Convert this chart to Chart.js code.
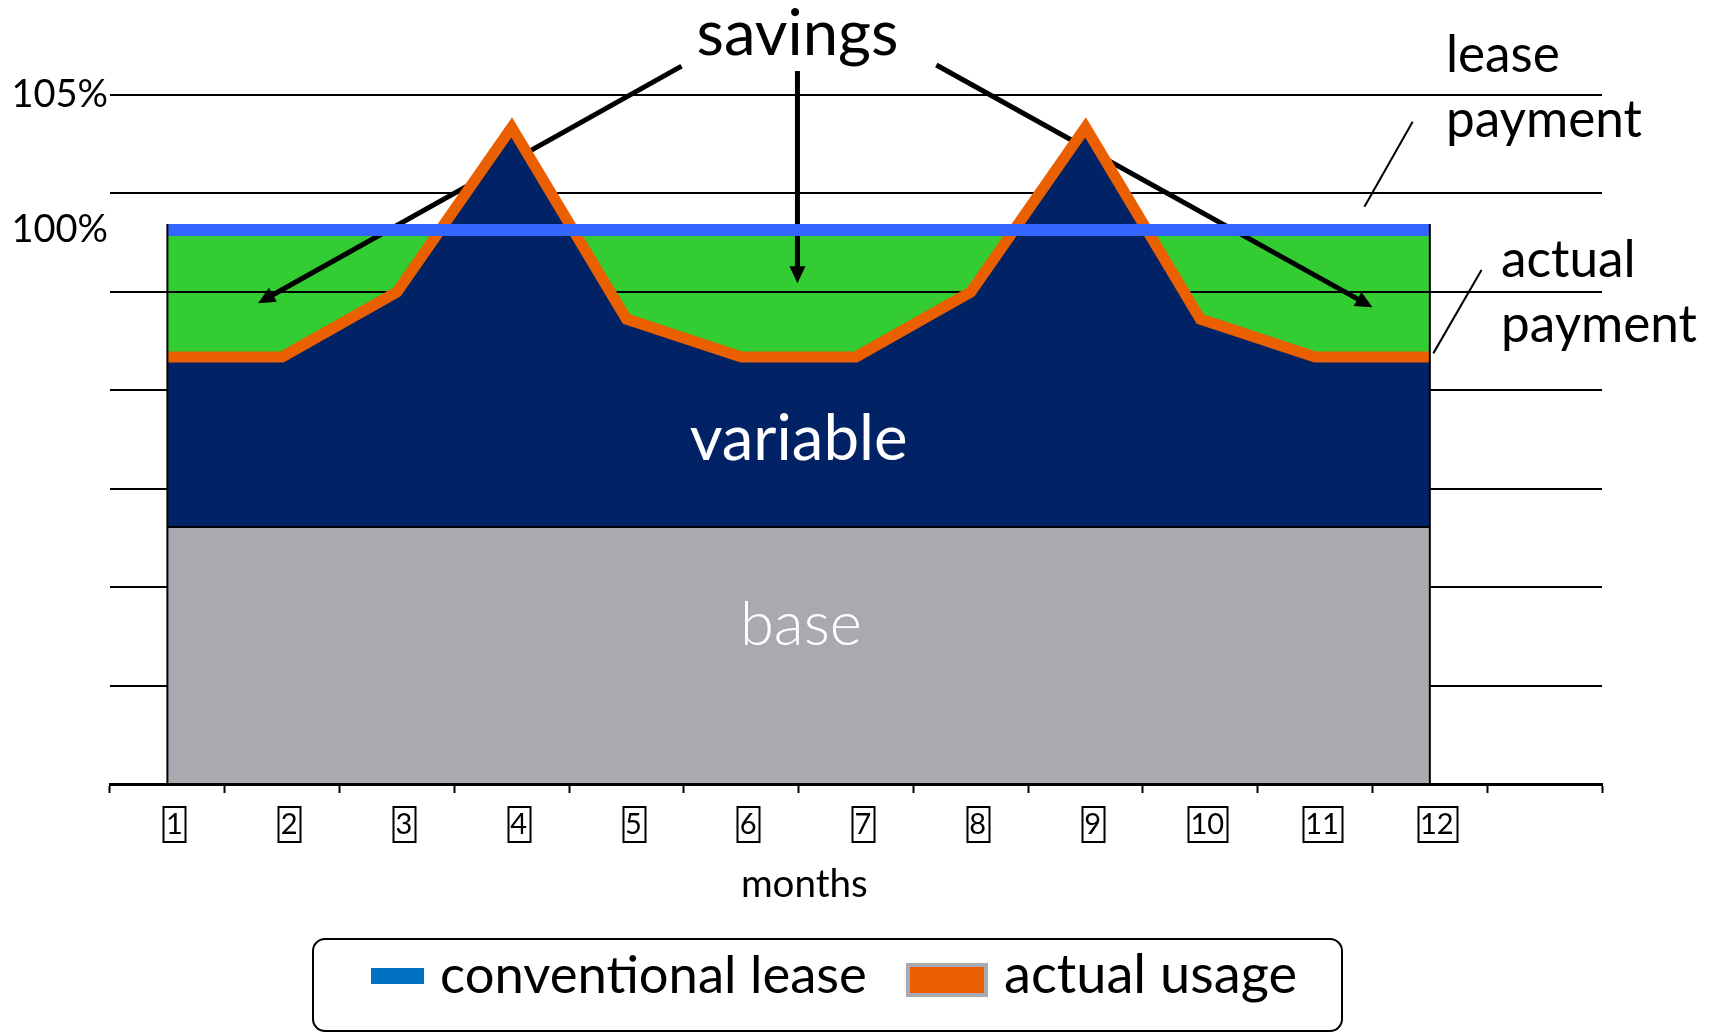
<!DOCTYPE html>
<html>
<head>
<meta charset="utf-8">
<title>Lease savings</title>
<script src="https://cdn.jsdelivr.net/npm/chart.js@4.4.0/dist/chart.umd.min.js"></script>
<style>
    html, body { margin: 0; padding: 0; background: #fff; }
    #chartBox { width: 1715px; height: 1034px; }
</style>
</head>
<body>
<div id="chartBox"><canvas id="leaseChart" width="1715" height="1034"></canvas></div>
<script>
// Chart data
const months = ['1', '2', '3', '4', '5', '6', '7', '8', '9', '10', '11', '12', ''];
const leasePayment = [100, 100, 100, 100, 100, 100, 100, 100, 100, 100, 100, 100];
const actualUsage = [95.3, 95.3, 97.7, 103.8, 96.7, 95.3, 95.3, 97.7, 103.8, 96.7, 95.3, 95.3];
const baseUsage = [89, 89, 89, 89, 89, 89, 89, 89, 89, 89, 89, 89];
const yTickValues = [105, 100];
const yTickLabels = ['105%', '100%'];
const legendLabels = ['conventional lease', 'actual usage'];

// Axis range and number of grid bands
const yMin = 79.48;
const yMax = 105;
const gridSteps = 7;

// Colours
const GREEN = '#33CC33';
const NAVY = '#012265';
const GREY = '#A9AAAF';
const BLUE = '#3366FF';
const ORANGE = '#EA5F00';
const LEGEND_BLUE = '#0070C0';
const FONT = 'Lato';

Chart.defaults.font.family = FONT;
Chart.defaults.color = '#000';

// Helpers
function pt(chart, i, v) {
    return { x: chart.scales.x.getPixelForValue(i), y: chart.scales.y.getPixelForValue(v) };
}

function fitFont(ctx, text, width, weight) {
    ctx.font = weight + ' 100px ' + FONT;
    const size = 100 * width / ctx.measureText(text).width;
    ctx.font = weight + ' ' + size.toFixed(1) + 'px ' + FONT;
    return size;
}

function line(ctx, a, b, width) {
    ctx.lineWidth = width;
    ctx.beginPath();
    ctx.moveTo(a.x, a.y);
    ctx.lineTo(b.x, b.y);
    ctx.stroke();
}

function arrow(ctx, from, to) {
    const ang = Math.atan2(to.y - from.y, to.x - from.x);
    const head = 17, half = 8;
    const back = { x: to.x - Math.cos(ang) * head * 0.8, y: to.y - Math.sin(ang) * head * 0.8 };
    line(ctx, from, back, 5);
    ctx.beginPath();
    ctx.moveTo(to.x, to.y);
    ctx.lineTo(to.x - Math.cos(ang) * head + Math.sin(ang) * half, to.y - Math.sin(ang) * head - Math.cos(ang) * half);
    ctx.lineTo(to.x - Math.cos(ang) * head - Math.sin(ang) * half, to.y - Math.sin(ang) * head + Math.cos(ang) * half);
    ctx.closePath();
    ctx.fill();
}

// Grid lines and arrows sit above the green savings area, below the usage areas
const notesPlugin = {
    id: 'notes',
    afterDatasetDraw(chart, args) {
        if (args.index !== 3) return;
        const ctx = chart.ctx;
        const area = chart.chartArea;
        const ys = chart.scales.y;
        ctx.save();
        ctx.strokeStyle = '#000';
        ctx.fillStyle = '#000';
        ctx.lineWidth = 2;
        for (let k = 1; k <= gridSteps; k++) {
            const y = Math.round(ys.getPixelForValue(yMin + k * (yMax - yMin) / gridSteps));
            ctx.beginPath();
            ctx.moveTo(area.left, y);
            ctx.lineTo(area.right, y);
            ctx.stroke();
        }
        arrow(ctx, pt(chart, 4.48, 106.07), pt(chart, 0.79, 97.29));
        arrow(ctx, pt(chart, 5.49, 105.89), pt(chart, 5.49, 98.03));
        arrow(ctx, pt(chart, 6.70, 106.11), pt(chart, 10.50, 97.14));
        ctx.restore();
    },
    afterDatasetsDraw(chart) {
        const ctx = chart.ctx;
        const area = chart.chartArea;
        const last = leasePayment.length - 1;
        ctx.save();
        ctx.strokeStyle = '#000';
        // side edges of the filled block
        [0, last].forEach(i => {
            const top = pt(chart, i, leasePayment[i]);
            line(ctx, { x: top.x, y: top.y - 6 }, { x: top.x, y: area.bottom }, 2);
        });

        // labels inside the areas
        ctx.fillStyle = '#fff';
        ctx.textAlign = 'center';
        ctx.textBaseline = 'alphabetic';
        let p = pt(chart, 5.50, 91.48);
        fitFont(ctx, 'variable', 218, 'normal');
        ctx.fillText('variable', p.x, p.y);
        p = pt(chart, 5.52, 84.63);
        fitFont(ctx, 'base', 122, '300');
        ctx.fillText('base', p.x, p.y);

        // leader lines and their labels on the right
        line(ctx, pt(chart, 10.85, 104.01), pt(chart, 10.43, 100.86), 2);
        line(ctx, pt(chart, 11.45, 98.52), pt(chart, 11.03, 95.43), 2);
        ctx.fillStyle = '#000';
        ctx.textAlign = 'left';
        fitFont(ctx, 'payment', 196, 'normal');
        p = pt(chart, 11.14, 105.86);
        ctx.fillText('lease', p.x, p.y);
        p = pt(chart, 11.14, 103.46);
        ctx.fillText('payment', p.x, p.y);
        p = pt(chart, 11.62, 98.27);
        ctx.fillText('actual', p.x, p.y);
        p = pt(chart, 11.62, 95.86);
        ctx.fillText('payment', p.x, p.y);
        ctx.restore();
    },
    afterDraw(chart) {
        const ctx = chart.ctx;
        const xs = chart.scales.x;
        const tickOpts = xs.options.ticks;
        ctx.save();
        ctx.strokeStyle = '#000';
        ctx.fillStyle = '#000';
        ctx.textBaseline = 'alphabetic';
        ctx.textAlign = 'center';

        // title over the arrows
        let p = pt(chart, 5.49, 106.48);
        fitFont(ctx, 'savings', 202, 'normal');
        ctx.fillText('savings', p.x, p.y);

        // boxes round the month numbers
        ctx.font = tickOpts.font.size + 'px ' + FONT;
        ctx.lineWidth = 2;
        const cy = xs.top + xs.options.grid.tickLength + tickOpts.padding + tickOpts.font.size / 2;
        xs.ticks.forEach((tick, i) => {
            if (!tick.label) return;
            const cx = xs.getPixelForTick(i) + tickOpts.labelOffset;
            const w = ctx.measureText(tick.label).width + 5;
            ctx.strokeRect(Math.round(cx - w / 2) + 0.5, Math.round(cy - 18), Math.round(w), 35);
        });

        // axis title
        p = pt(chart, 5.55, 75.3);
        fitFont(ctx, 'months', 127, 'normal');
        ctx.fillText('months', p.x, p.y);

        // legend
        const lx = 313, ly = 939, lw = 1029, lh = 92, r = 12;
        ctx.lineWidth = 2;
        ctx.beginPath();
        ctx.moveTo(lx + r, ly);
        ctx.arcTo(lx + lw, ly, lx + lw, ly + lh, r);
        ctx.arcTo(lx + lw, ly + lh, lx, ly + lh, r);
        ctx.arcTo(lx, ly + lh, lx, ly, r);
        ctx.arcTo(lx, ly, lx + lw, ly, r);
        ctx.closePath();
        ctx.stroke();

        ctx.fillStyle = LEGEND_BLUE;
        ctx.fillRect(371, 968, 53, 16);
        ctx.fillStyle = GREY;
        ctx.fillRect(906, 963, 82, 34);
        ctx.fillStyle = ORANGE;
        ctx.fillRect(910, 967, 74, 26);

        ctx.fillStyle = '#000';
        ctx.textAlign = 'left';
        fitFont(ctx, legendLabels[0], 427, 'normal');
        ctx.fillText(legendLabels[0], 440, 993);
        fitFont(ctx, legendLabels[1], 293, 'normal');
        ctx.fillText(legendLabels[1], 1004, 993);
        ctx.restore();
    }
};

const ctx = document.getElementById('leaseChart').getContext('2d');
new Chart(ctx, {
    type: 'line',
    data: {
        labels: months,
        datasets: [{
            label: legendLabels[0],
            data: leasePayment,
            borderColor: BLUE,
            borderWidth: 12,
            borderCapStyle: 'butt',
            pointRadius: 0,
            fill: false
        }, {
            label: 'base',
            data: baseUsage,
            borderColor: '#000',
            borderWidth: 2,
            backgroundColor: GREY,
            pointRadius: 0,
            fill: 'origin'
        }, {
            label: legendLabels[1],
            data: actualUsage,
            borderColor: ORANGE,
            borderWidth: 11,
            borderJoinStyle: 'miter',
            borderCapStyle: 'butt',
            backgroundColor: NAVY,
            pointRadius: 0,
            fill: 'origin'
        }, {
            label: 'savings',
            data: leasePayment,
            borderColor: 'transparent',
            borderWidth: 0,
            backgroundColor: GREEN,
            pointRadius: 0,
            fill: 'origin'
        }]
    },
    options: {
        responsive: false,
        animation: false,
        devicePixelRatio: 1,
        layout: { padding: { top: 95, right: 113, left: 0, bottom: 0 } },
        plugins: {
            legend: { display: false },
            tooltip: { enabled: false }
        },
        elements: { line: { tension: 0 } },
        scales: {
            x: {
                type: 'category',
                offset: true,
                afterFit: s => { s.height = 250; },
                grid: {
                    offset: true,
                    drawOnChartArea: false,
                    drawTicks: true,
                    tickLength: 9,
                    tickWidth: 2,
                    tickColor: '#000',
                    color: '#000'
                },
                border: { display: true, color: '#000', width: 3, z: 1 },
                ticks: {
                    color: '#000',
                    font: { family: FONT, size: 29, lineHeight: 1 },
                    padding: 17,
                    labelOffset: 7,
                    maxRotation: 0,
                    autoSkip: false
                }
            },
            y: {
                min: yMin,
                max: yMax,
                afterFit: s => { s.width = 110; },
                afterBuildTicks: s => { s.ticks = yTickValues.map(v => ({ value: v })); },
                grid: { display: false, drawTicks: false },
                border: { display: false },
                ticks: {
                    color: '#000',
                    padding: 2,
                    font: { family: FONT, size: 38 },
                    callback: v => {
                        const i = yTickValues.indexOf(v);
                        return i >= 0 ? yTickLabels[i] : '';
                    }
                }
            }
        }
    },
    plugins: [notesPlugin]
});
</script>
</body>
</html>
